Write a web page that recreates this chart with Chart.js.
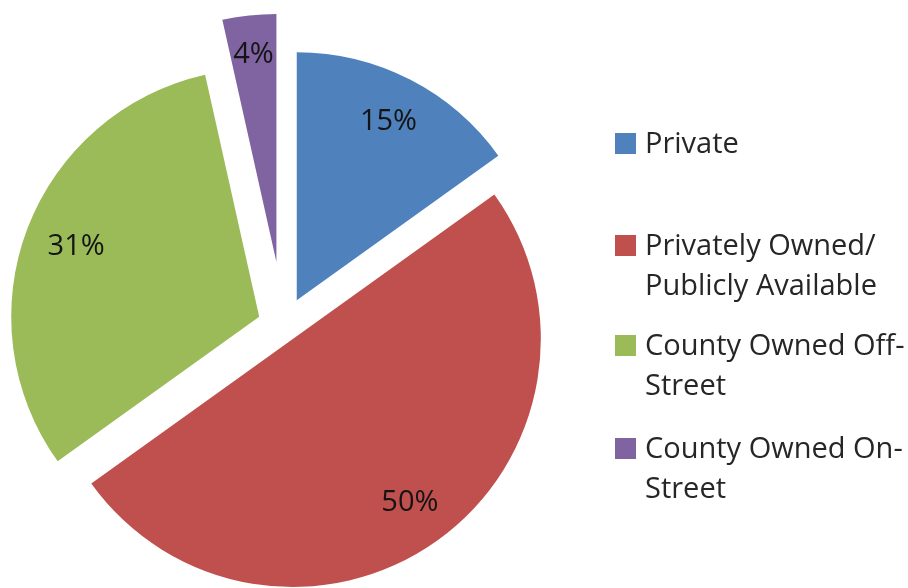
<!DOCTYPE html>
<html>
<head>
<meta charset="utf-8">
<script src="https://cdn.jsdelivr.net/npm/chart.js@4.4.1/dist/chart.umd.min.js"></script>
<style>
  html, body { margin: 0; padding: 0; background: #ffffff; }
  #wrap { position: relative; width: 908px; height: 588px; overflow: hidden; }
  #chart { position: absolute; left: 0; top: 0; }
  .leg { position: absolute; left: 615px; font-family: "Open Sans", sans-serif; font-size: 29px; line-height: 40px; color: #262626; white-space: nowrap; }
  .leg .sw { position: absolute; left: 0; top: 11px; width: 21px; height: 21px; }
  .leg .tx { position: absolute; left: 30px; top: 0; }
</style>
</head>
<body>
<div id="wrap">
  <canvas id="chart" width="908" height="588"></canvas>
  <div id="legend"></div>
</div>
<script>
// ---- data ----
const categories = ["Private", "Privately Owned/ Publicly Available", "County Owned Off-Street", "County Owned On-Street"];
const legendLines = [["Private"], ["Privately Owned/", "Publicly Available"], ["County Owned Off-", "Street"], ["County Owned On-", "Street"]];
const values = [15.1, 50.0, 31.4, 3.5];
const valueLabels = ["15%", "50%", "31%", "4%"];

// ---- styles ----
const colors = ["#4F81BD", "#C0504D", "#9BBB59", "#8064A2"];
const explode = [29, 16, 26, 64.5];        // slice pull-out distance in px
const labelRadius = [0.81, 0.81, 0.79, 0.84];
const legendTops = [122, 224, 324, 427];

// HTML legend
const legEl = document.getElementById('legend');
legendLines.forEach((lines, i) => {
  const d = document.createElement('div');
  d.className = 'leg';
  d.style.top = legendTops[i] + 'px';
  const sw = document.createElement('div');
  sw.className = 'sw';
  sw.style.background = colors[i];
  const tx = document.createElement('div');
  tx.className = 'tx';
  tx.innerHTML = lines.join('<br>');
  d.appendChild(sw); d.appendChild(tx);
  legEl.appendChild(d);
});

const explodePlugin = {
  id: 'explodeSlices',
  afterDatasetUpdate(chart, args) {
    const meta = chart.getDatasetMeta(args.index);
    meta.data.forEach((arc, i) => {
      const mid = (arc.startAngle + arc.endAngle) / 2;
      arc.x += Math.cos(mid) * explode[i];
      arc.y += Math.sin(mid) * explode[i];
    });
  }
};

const labelPlugin = {
  id: 'sliceLabels',
  afterDatasetsDraw(chart) {
    const ctx = chart.ctx;
    const meta = chart.getDatasetMeta(0);
    ctx.save();
    ctx.font = '29px "Open Sans", sans-serif';
    ctx.fillStyle = '#141414';
    ctx.textAlign = 'center';
    ctx.textBaseline = 'middle';
    meta.data.forEach((arc, i) => {
      const mid = (arc.startAngle + arc.endAngle) / 2;
      const r = arc.outerRadius * labelRadius[i];
      ctx.fillText(valueLabels[i], arc.x + Math.cos(mid) * r, arc.y + Math.sin(mid) * r);
    });
    ctx.restore();
  }
};

new Chart(document.getElementById('chart'), {
  type: 'pie',
  data: {
    labels: categories,
    datasets: [{
      data: values,
      backgroundColor: colors,
      borderWidth: 0,
      offset: 0,
      hoverOffset: 0,
      clip: false
    }]
  },
  options: {
    responsive: false,
    animation: false,
    radius: 248,
    layout: { padding: { left: 0, top: 64, right: 341, bottom: 0 } },
    plugins: {
      legend: { display: false },
      tooltip: { enabled: false }
    },
    events: []
  },
  plugins: [explodePlugin, labelPlugin]
});
</script>
</body>
</html>
